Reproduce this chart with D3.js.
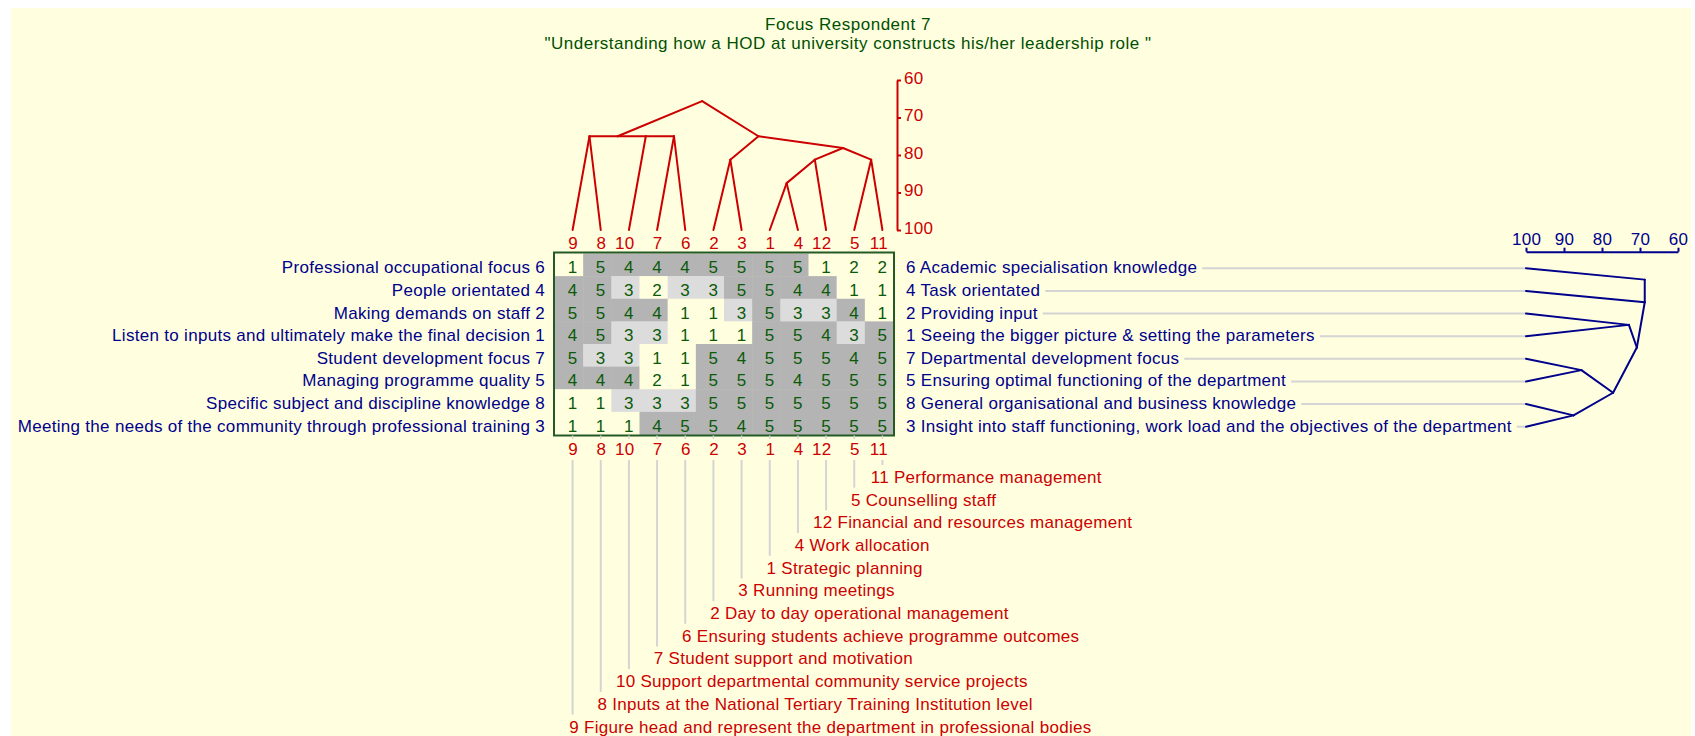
<!DOCTYPE html>
<html><head><meta charset="utf-8">
<script src="https://cdn.jsdelivr.net/npm/d3@7"></script>
<style>
html,body{margin:0;padding:0;background:#fff;}
svg{display:block;}
text{font-family:"Liberation Sans",Arial,sans-serif;font-size:17px;letter-spacing:0.3px;}
text.title{letter-spacing:0.5px;}
</style>
</head><body>
<svg id="chart" width="1695" height="736"></svg>
<script>
// ---------------- data ----------------
const titleLines = ["Focus Respondent 7",
  "\"Understanding how a HOD at university constructs his/her leadership role \""];

const elementIds = [9, 8, 10, 7, 6, 2, 3, 1, 4, 12, 5, 11];
const elementNames = [
  "Figure head and represent the department in professional bodies",
  "Inputs at the National Tertiary Training Institution level",
  "Support departmental community service projects",
  "Student support and motivation",
  "Ensuring students achieve programme outcomes",
  "Day to day operational management",
  "Running meetings",
  "Strategic planning",
  "Work allocation",
  "Financial and resources management",
  "Counselling staff",
  "Performance management"
];

const constructIds = [6, 4, 2, 1, 7, 5, 8, 3];
const leftPoles = [
  "Professional occupational focus",
  "People orientated",
  "Making demands on staff",
  "Listen to inputs and ultimately make the final decision",
  "Student development focus",
  "Managing programme quality",
  "Specific subject and discipline knowledge",
  "Meeting the needs of the community through professional training"
];
const rightPoles = [
  "Academic specialisation knowledge",
  "Task orientated",
  "Providing input",
  "Seeing the bigger picture & setting the parameters",
  "Departmental development focus",
  "Ensuring optimal functioning of the department",
  "General organisational and business knowledge",
  "Insight into staff functioning, work load and the objectives of the department"
];

const ratings = [
  [1, 5, 4, 4, 4, 5, 5, 5, 5, 1, 2, 2],
  [4, 5, 3, 2, 3, 3, 5, 5, 4, 4, 1, 1],
  [5, 5, 4, 4, 1, 1, 3, 5, 3, 3, 4, 1],
  [4, 5, 3, 3, 1, 1, 1, 5, 5, 4, 3, 5],
  [5, 3, 3, 1, 1, 5, 4, 5, 5, 5, 4, 5],
  [4, 4, 4, 2, 1, 5, 5, 5, 4, 5, 5, 5],
  [1, 1, 3, 3, 3, 5, 5, 5, 5, 5, 5, 5],
  [1, 1, 1, 4, 5, 5, 4, 5, 5, 5, 5, 5]
];

// element (column) dendrogram: node position (column units), similarity level, children
const elementTree = [
  {id: "N0", at: 0.6,  level: 75,     kids: ["L0", "L1"]},
  {id: "N3", at: 3.6,  level: 75,     kids: ["L3", "L4"]},
  {id: "N2", at: 2.6,  level: 75,     kids: ["L2", "N3"]},
  {id: "N1", at: 1.6,  level: 75,     kids: ["N0", "N2"]},
  {id: "N5", at: 5.6,  level: 81.25,  kids: ["L5", "L6"]},
  {id: "N7", at: 7.6,  level: 87.5,   kids: ["L7", "L8"]},
  {id: "N8", at: 8.6,  level: 81.25,  kids: ["N7", "L9"]},
  {id: "N10", at: 10.6, level: 81.25, kids: ["L10", "L11"]},
  {id: "N9", at: 9.6,  level: 78.125, kids: ["N8", "N10"]},
  {id: "N6", at: 6.6,  level: 75,     kids: ["N5", "N9"]},
  {id: "N4", at: 4.6,  level: 65.625, kids: ["N1", "N6"]}
];
// construct (row) dendrogram
const constructTree = [
  {id: "N2", at: 2.5, level: 72.92, kids: ["L2", "L3"]},
  {id: "N4", at: 4.5, level: 85.42, kids: ["L4", "L5"]},
  {id: "N6", at: 6.5, level: 87.5,  kids: ["L6", "L7"]},
  {id: "N5", at: 5.5, level: 77.08, kids: ["N4", "N6"]},
  {id: "N3", at: 3.5, level: 70.83, kids: ["N2", "N5"]},
  {id: "N1", at: 1.5, level: 68.75, kids: ["L1", "N3"]},
  {id: "N0", at: 0.5, level: 68.75, kids: ["L0", "N1"]}
];

const topAxisTicks = [60, 70, 80, 90, 100];
const sideAxisTicks = [100, 90, 80, 70, 60];

// ---------------- colours ----------------
const BG = "#FFFFE0", RED = "#CC0000", NAVY = "#00008B", GREEN = "#0A5A0A",
      BORDER = "#245A24", DARK = "#B4B4B4", LIGHT = "#DCDCDC", LEADER = "#D4D4D4";

// ---------------- drawing ----------------
const svg = d3.select("#chart");
svg.append("rect").attr("x", 11).attr("y", 8).attr("width", 1680).attr("height", 728).attr("fill", BG);

// title
svg.selectAll("text.title").data(titleLines).join("text")
  .attr("class", "title")
  .attr("x", 848).attr("y", (d, i) => 29.5 + i * 19.5)
  .attr("text-anchor", "middle").attr("fill", "#005000").text(d => d);

const nC = elementIds.length, nR = constructIds.length;
const col = d3.scaleBand().domain(d3.range(nC)).range([555, 893]);
const row = d3.scaleBand().domain(d3.range(nR)).range([253.5, 434.5]);
const cw = col.bandwidth(), rh = row.bandwidth();
const colPos = d3.scaleLinear().domain([0, nC - 1]).range([col(0) + cw / 2 + 3.5, col(nC - 1) + cw / 2 + 3.5]);
const rowPos = d3.scaleLinear().domain([0, nR - 1]).range([row(0) + rh / 2 + 3.5, row(nR - 1) + rh / 2 + 3.5]);
const topY = d3.scaleLinear().domain([60, 100]).range([80, 230]);
const sideX = d3.scaleLinear().domain([100, 60]).range([1526, 1678]);
const shade = v => v >= 4 ? DARK : (v === 3 ? LIGHT : BG);

// cells
const cells = [];
ratings.forEach((r, ri) => r.forEach((v, ci) => cells.push({ri, ci, v})));
const g = svg.append("g");
g.selectAll("rect.cell").data(cells).join("rect")
  .attr("class", "cell")
  .attr("x", d => col(d.ci)).attr("y", d => row(d.ri))
  .attr("width", cw + 0.5).attr("height", rh + 0.5)
  .attr("fill", d => shade(d.v));
g.selectAll("text.val").data(cells).join("text")
  .attr("class", "val")
  .attr("x", d => col(d.ci) + cw / 2 + 3.5).attr("y", d => row(d.ri) + rh / 2 + 8.5)
  .attr("text-anchor", "middle").attr("fill", GREEN).text(d => d.v);
svg.append("rect").attr("x", 554).attr("y", 252.5).attr("width", 340).attr("height", 183)
  .attr("fill", "none").attr("stroke", BORDER).attr("stroke-width", 2);

// column numbers top and bottom
[248.5, 454.5].forEach(yy => {
  svg.append("g").selectAll("text").data(elementIds).join("text")
    .attr("x", (d, i) => col(i) + cw / 2 + 9).attr("y", yy)
    .attr("text-anchor", "end").attr("fill", RED).text(d => d);
});

// left and right construct labels
svg.append("g").selectAll("text").data(leftPoles).join("text")
  .attr("x", 545).attr("y", (d, i) => row(i) + rh / 2 + 8.5)
  .attr("text-anchor", "end").attr("fill", NAVY)
  .text((d, i) => d + " " + constructIds[i]);
const rightLabels = svg.append("g").selectAll("text").data(rightPoles).join("text")
  .attr("x", 906).attr("y", (d, i) => row(i) + rh / 2 + 8.5)
  .attr("fill", NAVY)
  .text((d, i) => constructIds[i] + " " + d);
// right leaders
rightLabels.each(function (d, i) {
  const bb = this.getBBox();
  svg.append("line")
    .attr("x1", bb.x + bb.width + 5).attr("x2", sideX(100))
    .attr("y1", rowPos(i)).attr("y2", rowPos(i))
    .attr("stroke", LEADER).attr("stroke-width", 2);
});

// bottom element labels with leaders
const botY = d3.scaleLinear().domain([0, nC - 1]).range([477, 726.5]);
const bot = svg.append("g");
elementIds.forEach((id, ci) => {
  const k = nC - 1 - ci;
  const lx = colPos(ci);
  bot.append("line").attr("x1", lx).attr("x2", lx).attr("y1", 435.5).attr("y2", 439)
    .attr("stroke", LEADER).attr("stroke-width", 1.5);
  bot.append("line").attr("x1", lx).attr("x2", lx).attr("y1", 460).attr("y2", botY(k) - 12)
    .attr("stroke", LEADER).attr("stroke-width", 2);
  bot.append("text").attr("x", lx + 6.5).attr("y", botY(k) + 6)
    .attr("text-anchor", "end").attr("fill", RED).text(id);
  bot.append("text").attr("x", lx + 6.5 + 5).attr("y", botY(k) + 6)
    .attr("fill", RED).text(elementNames[ci]);
});

// dendrograms
function drawTree(tree, leafPt, nodePt, color) {
  const pts = {};
  tree.forEach(n => pts[n.id] = nodePt(n));
  const links = [];
  tree.forEach(n => n.kids.forEach(k => {
    const c = k[0] === "L" ? leafPt(+k.slice(1)) : pts[k];
    links.push([c, pts[n.id]]);
  }));
  svg.append("g").selectAll("line").data(links).join("line")
    .attr("x1", d => d[0][0]).attr("y1", d => d[0][1])
    .attr("x2", d => d[1][0]).attr("y2", d => d[1][1])
    .attr("stroke", color).attr("stroke-width", 2).attr("stroke-linecap", "round");
}
drawTree(elementTree, i => [colPos(i), topY(100)], n => [colPos(n.at), topY(n.level)], RED);
drawTree(constructTree, i => [sideX(100), rowPos(i)], n => [sideX(n.level), rowPos(n.at)], NAVY);

// axes
const ax1 = svg.append("g").attr("transform", "translate(897,0)")
  .call(d3.axisRight(topY).tickValues(topAxisTicks).tickSize(4).tickSizeOuter(0));
ax1.select(".domain").attr("stroke", RED).attr("stroke-width", 2);
ax1.selectAll(".tick line").attr("stroke", RED).attr("stroke-width", 2);
ax1.selectAll(".tick text").attr("fill", RED).attr("dy", "0.2em");
ax1.attr("font-size", null).attr("font-family", null);

const ax2 = svg.append("g").attr("transform", "translate(0,251.7)")
  .call(d3.axisTop(sideX).tickValues(sideAxisTicks).tickSize(4).tickSizeOuter(0));
ax2.select(".domain").attr("stroke", NAVY).attr("stroke-width", 2);
ax2.selectAll(".tick line").attr("stroke", NAVY).attr("stroke-width", 2);
ax2.selectAll(".tick text").attr("fill", NAVY);
ax2.attr("font-size", null).attr("font-family", null);
</script>
</body></html>
